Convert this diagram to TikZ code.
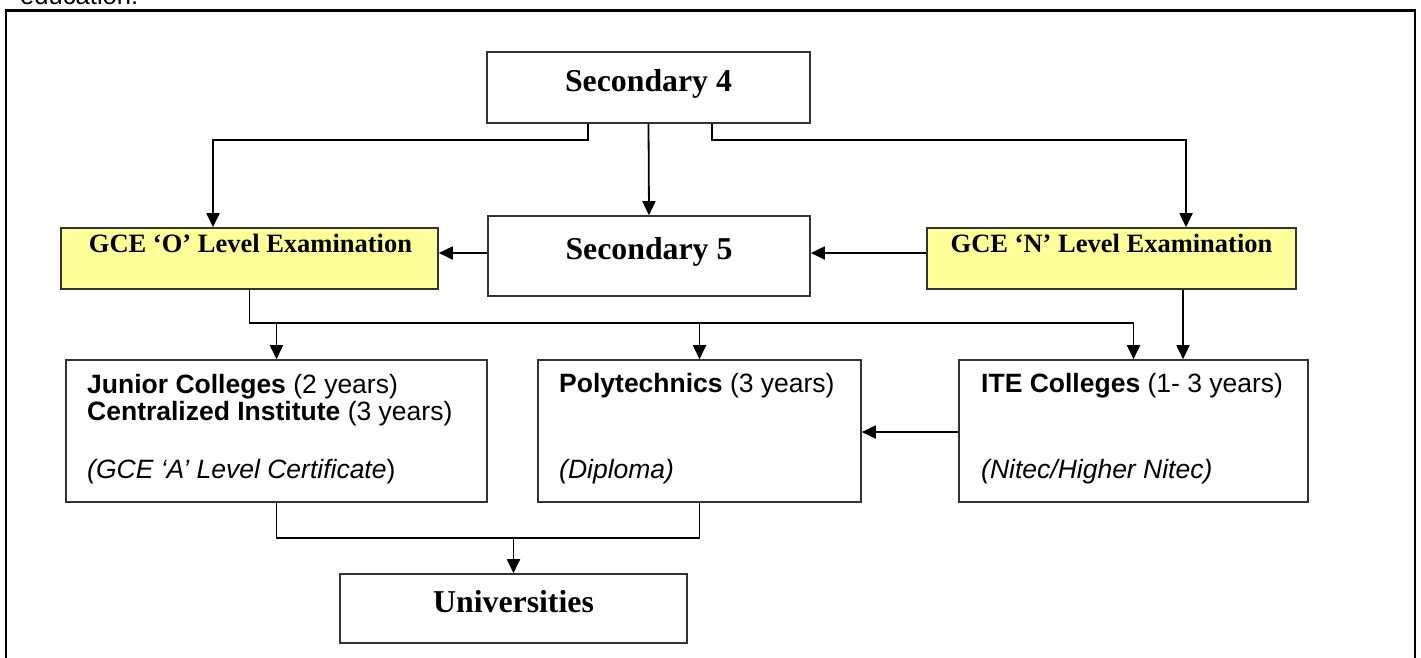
\documentclass[tikz,border=0pt]{standalone}
\usepackage{fontspec}
\setmainfont{Liberation Serif}
\setsansfont{Liberation Sans}
\usetikzlibrary{arrows.meta}
\definecolor{examyellow}{HTML}{FFFF99}
\definecolor{boxline}{HTML}{333333}
\tikzset{
  box/.style={draw=boxline, line width=1.6pt, rectangle, inner sep=0pt},
  exambox/.style={box, fill=examyellow},
  conn/.style={line width=1.8pt, black},
  arr/.style={conn, -{Triangle[length=14pt,width=13pt]}},
  serifbig/.style={font=\bfseries\fontsize{31.8}{36}\selectfont},
  serifmid/.style={font=\bfseries\fontsize{26.5}{31}\selectfont},
  sanstxt/.style={font=\sffamily\fontsize{26.5}{28.7}\selectfont, inner sep=0pt},
}
\begin{document}
\begin{tikzpicture}[x=1pt,y=-1pt]
\useasboundingbox (0,0) rectangle (1421,657);
\clip (0,0) rectangle (1421,657);
\fill[white] (0,0) rectangle (1421,657);

% clipped caption fragment and outer frame
\node[anchor=base west, inner sep=0pt, font=\sffamily\fontsize{25.6}{30}\selectfont] (edu) at (20,4.7) {education.};
\draw[line width=2.6pt] (6,700) -- (6,10.5) -- (1415,10.5) -- (1415,700);

% boxes
\node[box, minimum width=323pt, minimum height=71pt] (sec4) at (648.5,87.5) {};
\node[exambox, minimum width=377pt, minimum height=61pt] (olvl) at (249.5,258.5) {};
\node[box, minimum width=322pt, minimum height=80pt] (sec5) at (649,256) {};
\node[exambox, minimum width=369pt, minimum height=61pt] (nlvl) at (1111.5,258.5) {};
\node[box, minimum width=421pt, minimum height=142pt] (jc) at (276.5,431) {};
\node[box, minimum width=323pt, minimum height=142pt] (poly) at (699.5,431) {};
\node[box, minimum width=349pt, minimum height=142pt] (ite) at (1133.5,431) {};
\node[box, minimum width=347pt, minimum height=69pt] (uni) at (513.5,608.5) {};

% texts
\node[serifbig, anchor=base, inner sep=0pt] (t4) at (648.5,91) {Secondary 4};
\node[serifbig, anchor=base, inner sep=0pt] (t5) at (649,259) {Secondary 5};
\node[serifmid, anchor=base, inner sep=0pt] (to) at (250.5,252) {GCE `O' Level Examination};
\node[serifmid, anchor=base, inner sep=0pt] (tn) at (1111.5,252) {GCE `N' Level Examination};
\node[serifbig, anchor=base, inner sep=0pt] (tu) at (513.5,612) {Universities};

\node[sanstxt, anchor=base west] (jc1) at (87,393) {\textbf{Junior Colleges} (2 years)};
\node[sanstxt, anchor=base west] (jc2) at (87,420.5) {\textbf{Centralized Institute} (3 years)};
\node[sanstxt, anchor=base west] (jc3) at (87,478) {\textit{(GCE `A' Level Certificate})};
\node[sanstxt, anchor=base west] (p1) at (559,392.5) {\textbf{Polytechnics} (3 years)};
\node[sanstxt, anchor=base west] (p2) at (559,478) {\textit{(Diploma)}};
\node[sanstxt, anchor=base west] (i1) at (981,392.5) {\textbf{ITE Colleges} (1- 3 years)};
\node[sanstxt, anchor=base west] (i2) at (981,478.5) {\textit{(Nitec/Higher Nitec)}};

% helper coordinates
\coordinate (c1) at (588,140);
\coordinate (c2) at (712,140);
\coordinate (c3) at (213,140);
\coordinate (c4) at (1186,140);
\coordinate (c5) at (0,253);
\coordinate (c6) at (1183,0);
\coordinate (c7) at (0,432);
\coordinate (h) at (0,323);
\coordinate (b) at (0,538);

% connectors
\draw[arr] (sec4.south -| c1) -- (c1) -- (c3) -- (olvl.north -| c3);
\draw[arr] (sec4.south) -- (sec5.north);
\draw[arr] (sec4.south -| c2) -- (c2) -- (c4) -- (nlvl.north -| c4);
\draw[arr] (sec5.west |- c5) -- (olvl.east |- c5);
\draw[arr] (nlvl.west |- c5) -- (sec5.east |- c5);

\draw[conn] (olvl.south) -- (olvl.south |- h) -- (ite.north |- h);
\draw[arr] (jc.north |- h) -- (jc.north);
\draw[arr] (poly.north |- h) -- (poly.north);
\draw[arr] (ite.north |- h) -- (ite.north);
\draw[arr] (nlvl.south -| c6) -- (ite.north -| c6);
\draw[arr] (ite.west |- c7) -- (poly.east |- c7);

\draw[conn] (jc.south) -- (jc.south |- b) -- (poly.south |- b) -- (poly.south);
\draw[arr] (uni.north |- b) -- (uni.north);
\end{tikzpicture}
\end{document}
